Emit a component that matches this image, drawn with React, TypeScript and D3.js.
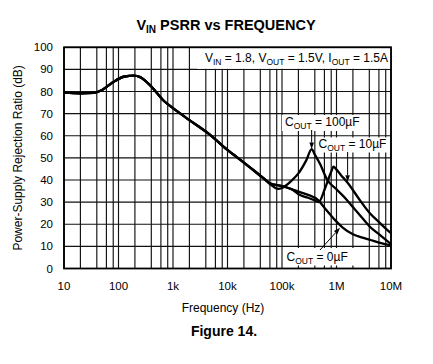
import React from 'react';
import * as d3 from 'd3';

const W = 433;
const H = 364;

const xTickValues = [10, 100, 1e3, 1e4, 1e5, 1e6, 1e7];
const xTickLabels = ['10', '100', '1k', '10k', '100k', '1M', '10M'];
const yTickValues = [0, 10, 20, 30, 40, 50, 60, 70, 80, 90, 100];
const gridMultipliers = [1, 2, 4, 6, 8];

// shared portion of all three curves
const freqShared = [10, 20, 35, 50, 80, 130, 190, 250, 300, 400, 700, 1000, 2000, 4800, 10000, 20000, 50000];
const psrrShared = [79.5, 79.2, 79.4, 80.7, 84.3, 86.8, 87.2, 86.5, 85.2, 82.3, 75.5, 72.5, 67.1, 60.4, 53.6, 47.9, 40.0];

// COUT = 100uF tail
const freq100 = [60e3, 85e3, 100e3, 150e3, 200e3, 280e3, 350e3, 400e3, 500e3, 680e3, 1e6, 1.55e6, 2e6, 3e6, 4.1e6, 6e6, 1e7];
const psrr100 = [38.2, 36.0, 36.4, 39.7, 43.0, 49.0, 54.0, 51.5, 47.2, 40.0, 35.8, 31.0, 27.8, 22.7, 18.9, 15.5, 11.0];

// COUT = 10uF tail
const freq10 = [60e3, 100e3, 150e3, 214e3, 300e3, 400e3, 470e3, 600e3, 700e3, 800e3, 880e3, 1e6, 1.2e6, 1.6e6, 2.5e6, 4.1e6, 6e6, 1e7];
const psrr10 = [38.5, 37.3, 35.8, 33.2, 32.0, 30.8, 30.0, 35.5, 40.0, 43.8, 46.0, 44.7, 42.3, 38.8, 32.0, 25.0, 21.0, 15.9];

// COUT = 0uF tail
const freq0 = [60e3, 100e3, 150e3, 214e3, 300e3, 460e3, 600e3, 760e3, 1e6, 1.3e6, 2e6, 3e6, 4.1e6, 6e6, 1e7];
const psrr0 = [38.5, 37.3, 35.9, 34.5, 33.3, 30.9, 27.5, 24.5, 21.2, 18.5, 15.5, 14.0, 13.0, 11.7, 10.5];

const FONT = '"Liberation Sans", Arial, Helvetica, sans-serif';

const left = 64;
const right = 391;
const top = 47.3;
const bottom = 268.5;

const x = d3.scaleLog().domain([10, 1e7]).range([left, right]);
const y = d3.scaleLinear().domain([0, 100]).range([bottom, top]);

type Pt = { f: number; v: number };
const zip = (fs: number[], vs: number[]): Pt[] => fs.map((f, i) => ({ f, v: vs[i] }));

const shared = zip(freqShared, psrrShared);
const series = [
  shared.concat(zip(freq100, psrr100)),
  shared.concat(zip(freq10, psrr10)),
  shared.concat(zip(freq0, psrr0)),
];

const line = d3
  .line<Pt>()
  .x((d) => x(d.f))
  .y((d) => y(d.v))
  .curve(d3.curveMonotoneX);

const gridFreqs: number[] = [];
for (let dec = 10; dec < 1e7; dec *= 10) {
  for (const k of gridMultipliers) gridFreqs.push(k * dec);
}
gridFreqs.push(1e7);

function Arrow({ x1, y1, x2, y2 }: { x1: number; y1: number; x2: number; y2: number }) {
  const ang = Math.atan2(y2 - y1, x2 - x1);
  const len = 6.5;
  const hw = 2.3;
  const bx = x2 - len * Math.cos(ang);
  const by = y2 - len * Math.sin(ang);
  const px = -Math.sin(ang) * hw;
  const py = Math.cos(ang) * hw;
  return (
    <g>
      <line x1={x1} y1={y1} x2={bx} y2={by} stroke="#000" strokeWidth={1} />
      <polygon points={`${x2},${y2} ${bx + px},${by + py} ${bx - px},${by - py}`} fill="#000" />
    </g>
  );
}

function CLabel({ tx, ty, value }: { tx: number; ty: number; value: string }) {
  return (
    <text x={tx} y={ty} fontSize={12} fontFamily={FONT} fill="#000">
      <tspan>C</tspan>
      <tspan dy={3} fontSize={8.5}>OUT</tspan>
      <tspan dy={-3}>{` = ${value}`}</tspan>
    </text>
  );
}

export default function App() {
  return (
    <svg
      width={W}
      height={H}
      viewBox={`0 0 ${W} ${H}`}
      style={{ position: 'absolute', left: 0, top: 0, background: '#fff' }}
    >
      <rect x={0} y={0} width={W} height={H} fill="#fff" />
      {/* title */}
      <text x={226} y={30} textAnchor="middle" fontSize={14.5} fontWeight="bold" fontFamily={FONT}>
        <tspan>V</tspan>
        <tspan dy={3} fontSize={10}>IN</tspan>
        <tspan dy={-3}> PSRR vs FREQUENCY</tspan>
      </text>

      {/* grid */}
      <g stroke="#111" strokeWidth={1.15}>
        {gridFreqs.map((f) => (
          <line key={'v' + f} x1={x(f)} x2={x(f)} y1={top} y2={bottom} />
        ))}
        {yTickValues.map((v) => (
          <line key={'h' + v} x1={left} x2={right} y1={y(v)} y2={y(v)} />
        ))}
      </g>

      {/* annotation backgrounds */}
      <rect x={197} y={top} width={right - 197} height={y(90) - top - 0.6} fill="#fff" />
      <rect x={282} y={115} width={84} height={16} fill="#fff" />
      <rect x={316} y={137.5} width={73} height={15} fill="#fff" />
      <rect x={283} y={248} width={73} height={17.5} fill="#fff" />

      {/* curves */}
      {series.map((s, i) => (
        <path key={i} d={line(s) || ''} fill="none" stroke="#000" strokeWidth={2.3} strokeLinejoin="round" />
      ))}

      {/* frame */}
      <rect x={left} y={top} width={right - left} height={bottom - top} fill="none" stroke="#000" strokeWidth={1.8} />

      {/* top note */}
      <text x={388} y={62} textAnchor="end" fontSize={12} fontFamily={FONT}>
        <tspan>V</tspan>
        <tspan dy={3} fontSize={8.5}>IN</tspan>
        <tspan dy={-3}>{' = 1.8, V'}</tspan>
        <tspan dy={3} fontSize={8.5}>OUT</tspan>
        <tspan dy={-3}>{' = 1.5V, I'}</tspan>
        <tspan dy={3} fontSize={8.5}>OUT</tspan>
        <tspan dy={-3}>{' = 1.5A'}</tspan>
      </text>

      {/* curve labels */}
      <CLabel tx={285} ty={126} value="100µF" />
      <CLabel tx={318.5} ty={148} value="10µF" />
      <CLabel tx={286.5} ty={260.5} value="0µF" />
      <Arrow x1={x(350e3)} y1={130} x2={x(350e3)} y2={y(54)} />
      <Arrow x1={x(1.6e6)} y1={152} x2={x(1.6e6)} y2={y(38.8) - 1} />
      <Arrow x1={320} y1={250} x2={x(1.16e6)} y2={y(18.4)} />

      {/* y tick labels */}
      {yTickValues.map((v) => (
        <text key={'yl' + v} x={53} y={y(v) + 4} textAnchor="end" fontSize={11.5} fontFamily={FONT}>
          {v}
        </text>
      ))}
      {/* x tick labels */}
      {xTickValues.map((f, i) => (
        <text key={'xl' + f} x={x(f)} y={289.5} textAnchor="middle" fontSize={11.5} fontFamily={FONT}>
          {xTickLabels[i]}
        </text>
      ))}

      {/* axis titles */}
      <text x={223} y={312} textAnchor="middle" fontSize={12} fontFamily={FONT}>
        Frequency (Hz)
      </text>
      <text
        transform={`translate(21.5, ${(top + bottom) / 2}) rotate(-90)`}
        textAnchor="middle"
        fontSize={12}
        fontFamily={FONT}
      >
        Power-Supply Rejection Ratio (dB)
      </text>
      <text x={224} y={336} textAnchor="middle" fontSize={14} fontWeight="bold" fontFamily={FONT}>
        Figure 14.
      </text>
    </svg>
  );
}
